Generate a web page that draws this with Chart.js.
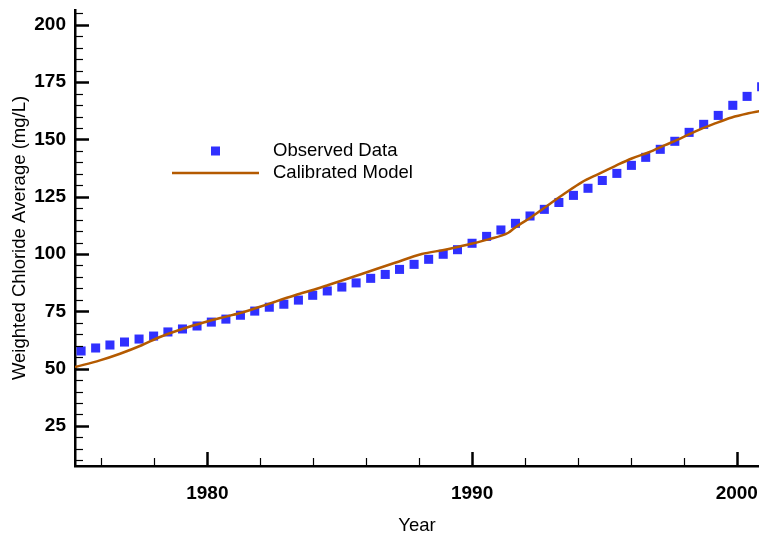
<!DOCTYPE html>
<html>
<head>
<meta charset="utf-8">
<script src="https://cdn.jsdelivr.net/npm/chart.js@4.4.1/dist/chart.umd.min.js"></script>
<style>
  html, body { margin: 0; padding: 0; background: #fff; }
  #chart { display: block; }
</style>
</head>
<body>
<canvas id="chart" width="759" height="535"></canvas>
<script>
// observed weighted chloride average (mg/L)
const obsYears = [
  1975.23, 1975.78, 1976.32, 1976.87, 1977.42, 1977.97, 1978.51, 1979.06,
  1979.61, 1980.15, 1980.70, 1981.25, 1981.79, 1982.34, 1982.89, 1983.44,
  1983.98, 1984.53, 1985.08, 1985.62, 1986.17, 1986.72, 1987.26, 1987.81,
  1988.36, 1988.91, 1989.45, 1990.00, 1990.55, 1991.09, 1991.64, 1992.19,
  1992.73, 1993.28, 1993.83, 1994.38, 1994.92, 1995.47, 1996.02, 1996.56,
  1997.11, 1997.66, 1998.20, 1998.75, 1999.30, 1999.85, 2000.39, 2000.94,
];
const obsChloride = [
  57.7, 59.0, 60.3, 61.6, 62.9, 64.2, 66.0, 67.3,
  68.6, 70.3, 71.6, 73.3, 75.1, 76.8, 78.1, 79.9,
  82.0, 83.9, 85.6, 87.4, 89.4, 91.1, 93.3, 95.5,
  97.7, 99.9, 101.9, 104.7, 107.7, 110.5, 113.4, 116.6,
  119.5, 122.5, 125.6, 128.7, 132.1, 135.2, 138.7, 142.2,
  145.7, 149.2, 153.1, 156.6, 160.5, 164.9, 168.8, 173.0,
];

// calibrated model curve
const modelYears = [
  1975.00, 1975.94, 1976.70, 1977.52, 1978.21, 1979.46, 1980.03, 1980.74,
  1981.31, 1981.99, 1982.56, 1983.31, 1984.26, 1984.57, 1985.83, 1987.09,
  1988.10, 1988.98, 1989.86, 1990.62, 1991.37, 1991.62, 1992.26, 1992.88,
  1993.51, 1994.14, 1994.77, 1995.40, 1996.03, 1996.66, 1997.29, 1997.92,
  1998.55, 1999.18, 1999.81, 2000.44, 2000.88,
];
const modelChloride = [
  50.7, 53.6, 56.5, 60.2, 63.8, 68.8, 70.7, 72.8,
  74.5, 77.0, 79.2, 82.0, 85.3, 86.5, 91.3, 96.2,
  100.0, 101.9, 104.2, 106.4, 109.3, 111.5, 116.3, 121.4,
  126.5, 131.3, 134.9, 138.4, 141.7, 144.3, 147.5, 150.7,
  154.1, 157.0, 159.6, 161.4, 162.4,
];

const yearTicks = [1980, 1990, 2000];
const chlorideTicks = [25, 50, 75, 100, 125, 150, 175, 200];
const yearMinorStep = 2;
const chlorideMinorStep = 5;

const SQUARE = '#3030ff';
const MODEL = '#b45a00';
const FONT = '"Liberation Sans", Arial, Helvetica, sans-serif';

const toPoints = (xs, ys) => xs.map((x, i) => ({ x: x, y: ys[i] }));

// no extra room for overhanging tick labels, the plot runs to the edge
const noOverhang = (s) => {
  s.paddingLeft = 0;
  s.paddingRight = 0;
  s.paddingTop = 0;
  s.paddingBottom = 0;
};

// tick marks point inward, like the old plotting package did
const inwardTicks = {
  id: 'inwardTicks',
  afterDatasetsDraw(chart) {
    const { ctx, chartArea: a, scales: { x, y } } = chart;
    ctx.save();
    ctx.strokeStyle = '#000';
    const tick = (x1, y1, x2, y2, w) => {
      ctx.lineWidth = w;
      ctx.beginPath();
      ctx.moveTo(x1, y1);
      ctx.lineTo(x2, y2);
      ctx.stroke();
    };
    for (let v = Math.ceil(y.min / chlorideMinorStep) * chlorideMinorStep; v <= y.max; v += chlorideMinorStep) {
      const py = Math.round(y.getPixelForValue(v)) + 0.5;
      if (chlorideTicks.includes(v)) tick(a.left, py, a.left + 14, py, 2.5);
      else tick(a.left, py, a.left + 8, py, 1.2);
    }
    for (let v = Math.ceil(x.min / yearMinorStep) * yearMinorStep; v <= x.max; v += yearMinorStep) {
      const px = Math.round(x.getPixelForValue(v)) + 0.5;
      if (yearTicks.includes(v)) tick(px, a.bottom, px, a.bottom - 14, 2.5);
      else tick(px, a.bottom, px, a.bottom - 8, 1.2);
    }
    ctx.restore();
  },
};

// legend box sits inside the plot, upper left
const plotLegend = {
  id: 'plotLegend',
  afterDraw(chart) {
    const { ctx, chartArea: a } = chart;
    const lx = a.left + 97;
    const row1 = a.top + 141;
    const row2 = a.top + 163;
    ctx.save();
    ctx.fillStyle = SQUARE;
    ctx.fillRect(a.left + 136, row1 - 4.5, 9, 9);
    ctx.strokeStyle = MODEL;
    ctx.lineWidth = 2.5;
    ctx.beginPath();
    ctx.moveTo(lx, row2);
    ctx.lineTo(lx + 87, row2);
    ctx.stroke();
    ctx.fillStyle = '#000';
    ctx.font = '18.5px ' + FONT;
    ctx.textBaseline = 'middle';
    ctx.fillText('Observed Data', a.left + 198, row1);
    ctx.fillText('Calibrated Model', a.left + 198, row2);
    ctx.restore();
  },
};

const ctx = document.getElementById('chart');
const chart = new Chart(ctx, {
  type: 'scatter',
  data: {
    datasets: [
      {
        label: 'Calibrated Model',
        data: toPoints(modelYears, modelChloride),
        showLine: true,
        borderColor: MODEL,
        borderWidth: 2.5,
        pointRadius: 0,
        cubicInterpolationMode: 'monotone',
        order: 0,
      },
      {
        label: 'Observed Data',
        data: toPoints(obsYears, obsChloride),
        pointStyle: 'rect',
        pointRadius: 6.4,
        pointBorderWidth: 0,
        backgroundColor: SQUARE,
        borderColor: SQUARE,
        clip: false,
        order: 1,
      },
    ],
  },
  options: {
    responsive: false,
    animation: false,
    devicePixelRatio: 1,
    layout: { autoPadding: false, padding: { top: 10, right: 0, bottom: 0, left: 0 } },
    scales: {
      x: {
        type: 'linear',
        min: 1975,
        max: 2000.84,
        afterBuildTicks: (s) => { s.ticks = yearTicks.map((v) => ({ value: v })); },
        afterFit: (s) => { s.height = 69; noOverhang(s); },
        grid: { display: false, drawTicks: false },
        border: { display: true, color: '#000', width: 2.5 },
        ticks: {
          color: '#000',
          padding: 16,
          maxRotation: 0,
          font: { family: FONT, size: 19, weight: 'bold' },
          callback: (v) => String(v),
        },
        title: {
          display: true,
          text: 'Year',
          color: '#000',
          padding: { top: 0, bottom: -2 },
          font: { family: FONT, size: 18.5 },
        },
      },
      y: {
        min: 7.5,
        max: 206.5,
        afterBuildTicks: (s) => { s.ticks = chlorideTicks.map((v) => ({ value: v })); },
        afterFit: (s) => { s.width = 75; noOverhang(s); },
        grid: { display: false, drawTicks: false },
        border: { display: true, color: '#000', width: 2.5 },
        ticks: {
          color: '#000',
          padding: 9,
          font: { family: FONT, size: 19, weight: 'bold' },
        },
        title: {
          display: true,
          text: 'Weighted Chloride Average (mg/L)',
          color: '#000',
          padding: { top: 9, bottom: 0 },
          font: { family: FONT, size: 18.5 },
        },
      },
    },
    plugins: {
      legend: { display: false },
      tooltip: { enabled: false },
    },
  },
  plugins: [inwardTicks, plotLegend],
});
</script>
</body>
</html>
